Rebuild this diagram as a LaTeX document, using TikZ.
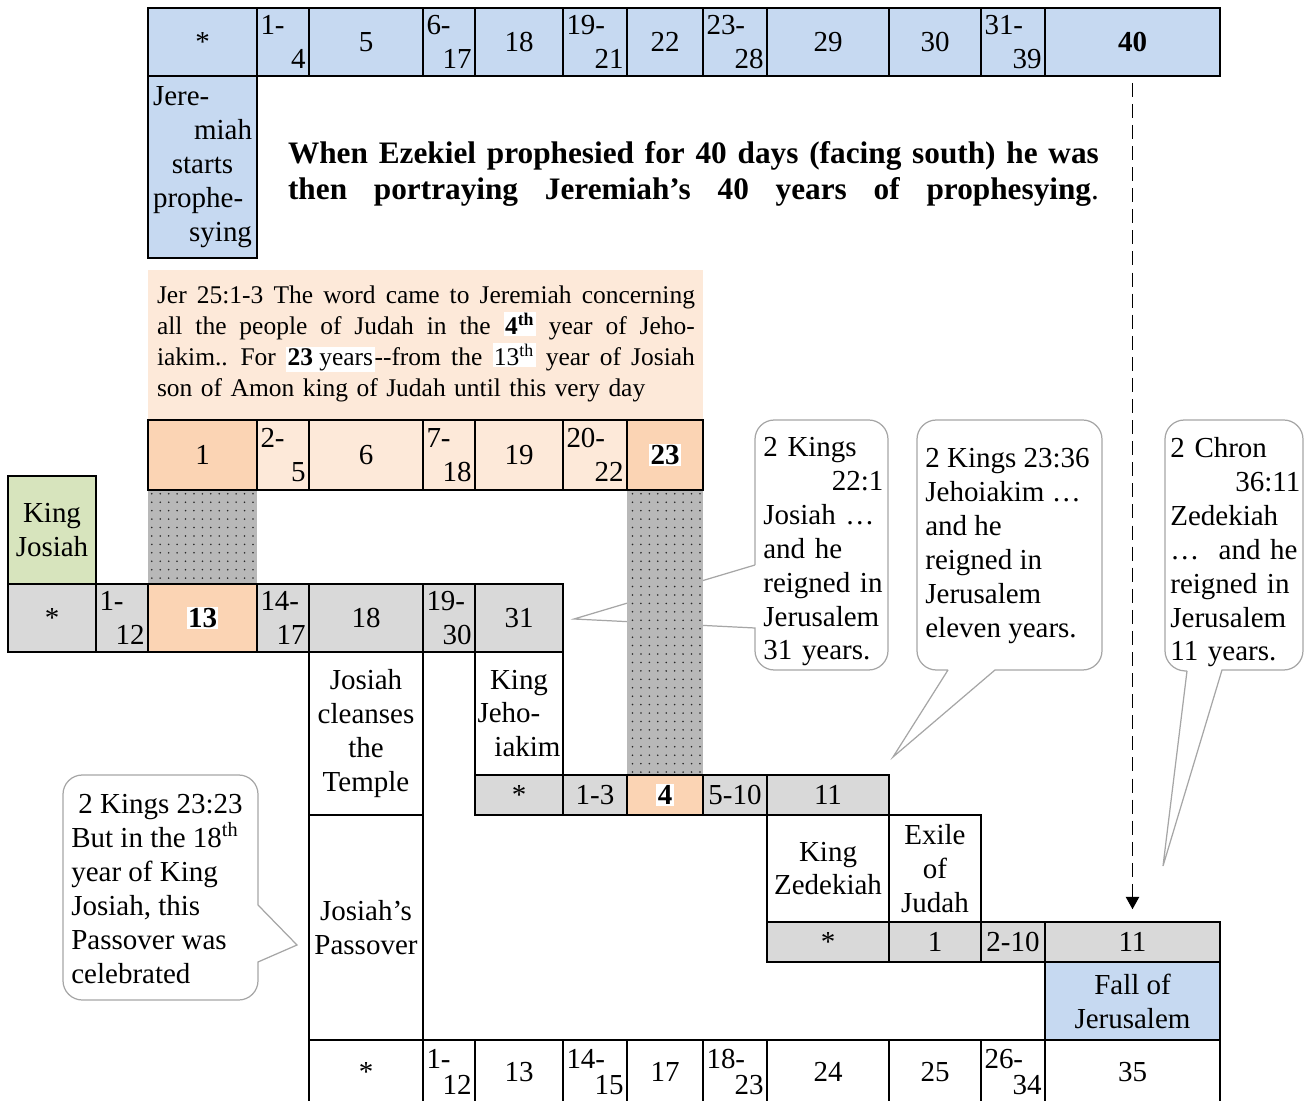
\documentclass[tikz,border=0pt]{standalone}
\usepackage{fontspec}
\setmainfont{Liberation Serif}
\usepackage{xcolor}
\usetikzlibrary{arrows.meta, fit, patterns.meta}

\definecolor{topblue}{HTML}{C6D9F1}
\definecolor{lpeach}{HTML}{FDE9D9}
\definecolor{dpeach}{HTML}{FBD4B4}
\definecolor{lgray}{HTML}{D9D9D9}
\definecolor{kinggreen}{HTML}{D7E4BD}
\definecolor{dotgray}{HTML}{B8B8B8}
\definecolor{calloutgray}{HTML}{A6A6A6}

\newcommand{\cellfont}{\fontsize{16.5}{19.3}\selectfont}
\newcommand{\jerfont}{\fontsize{14.5}{17.6}\selectfont}
\newcommand{\headfont}{\fontsize{17.8}{20.4}\selectfont\bfseries}
\newcommand{\hl}[1]{{\setlength{\fboxsep}{0.8pt}\colorbox{white}{#1}}}
% a justified line spread to a given width
\newcommand{\spreadline}[2]{\makebox[#1][s]{\spaceskip=0.25em plus 1fil minus 0.08em\relax #2}}
% line alignments inside a cell
\newcommand{\lineleft}[1]{#1\hspace*{\fill}\mbox{}}
\newcommand{\lineright}[1]{\mbox{}\hspace*{\fill}#1}
\newcommand{\linemid}[1]{\mbox{}\hspace*{\fill}#1\hspace*{\fill}\mbox{}}
\newcommand{\splitgap}{0pt}
% year cell: [style]{name}{x1}{x2}{y1}{y2}{text}
\newcommand{\yearcell}[7][]{\node[yrcell, #1,
  minimum width={(#4-#3)*0.02cm}, minimum height={(#6-#5)*0.02cm}]
  (#2) at ({(#3+#4)/2},{(#5+#6)/2}) {#7};}
% split year cell: [style]{name}{x1}{x2}{y1}{y2}{top left}{bottom right}
\newcommand{\splitcell}[8][]{\pgfmathsetlengthmacro{\splitw}{(#4-#3-7)*0.02cm}%
  \yearcell[#1, text width=\splitw]{#2}{#3}{#4}{#5}{#6}{\lineleft{#7}\\[\splitgap]\lineright{#8}}}

\tikzset{
  yrcell/.style={draw=black, line width=0.9pt, inner sep=0pt, align=center, font=\cellfont},
  bluecell/.style={fill=topblue},
  peachcell/.style={fill=lpeach, line width=1.4pt},
  graycell/.style={fill=lgray},
  whitecell/.style={fill=white},
  greencell/.style={fill=kinggreen},
  dotcol/.style={draw=none, inner sep=0pt, preaction={fill=dotgray},
    pattern={Dots[distance=4.8pt, radius=0.5pt]}, pattern color=black!85},
  callout/.style={draw=calloutgray, line width=0.7pt, fill=white},
  notetext/.style={anchor=north west, inner sep=0pt, align=left, font=\cellfont},
  headtext/.style={text width=16.22cm, align=left, inner sep=0pt, font=\headfont},
  jertext/.style={text width=10.76cm, align=left, inner sep=0pt, font=\jerfont},
  dasharr/.style={dash pattern=on 8pt off 4pt, line width=0.9pt, -{Triangle[length=7pt, width=7.5pt]}}
}

\begin{document}
\begin{tikzpicture}[x=0.02cm, y=-0.02cm]
  \useasboundingbox (0,0) rectangle (1306,1101);
  \clip (0,0) rectangle (1306,1101);

  % ---- Quote background ----
  \node[fill=lpeach, inner sep=0pt, fit={(148,270) (703,420)}] (jerbg) {};

  % ---- Callouts ----
  \draw[callout] (755,565) -- (574,619) -- (755,628) [rounded corners=11pt]
    -- (755,670) -- (888,670) -- (888,420) -- (755,420) -- (755,565);
  \draw[callout] (948,670) -- (893,757) -- (995,670) [rounded corners=11pt]
    -- (1102,670) -- (1102,420) -- (917,420) -- (917,670) -- (948,670);
  \draw[callout] (1187,671) -- (1163,866) -- (1222,670) [rounded corners=11pt]
    -- (1303,670) -- (1303,420) -- (1165,420) -- (1165,670) -- (1187,671);
  \draw[callout] (258,905) -- (297,945) -- (258,962) [rounded corners=11pt]
    -- (258,1000) -- (63,1000) -- (63,775) -- (258,775) -- (258,905);

  % ---- Dotted columns ----
  \node[dotcol, fit={(148,490) (257,584)}] (dotA) {};
  \node[dotcol, fit={(627,490) (703,775)}] (dotB) {};

  % ---- Jeremiah row ----
  \yearcell[bluecell]{t0}{148}{257}{8}{76}{*}
  \splitcell[bluecell]{t1}{257}{309}{8}{76}{1-}{4}
  \yearcell[bluecell]{t2}{309}{423}{8}{76}{5}
  \splitcell[bluecell]{t3}{423}{475}{8}{76}{6-}{17}
  \yearcell[bluecell]{t4}{475}{563}{8}{76}{18}
  \splitcell[bluecell]{t5}{563}{627}{8}{76}{19-}{21}
  \yearcell[bluecell]{t6}{627}{703}{8}{76}{22}
  \splitcell[bluecell]{t7}{703}{767}{8}{76}{23-}{28}
  \yearcell[bluecell]{t8}{767}{889}{8}{76}{29}
  \yearcell[bluecell]{t9}{889}{981}{8}{76}{30}
  \splitcell[bluecell]{t10}{981}{1045}{8}{76}{31-}{39}
  \yearcell[bluecell]{c40}{1045}{1220}{8}{76}{\textbf{40}}
  \yearcell[bluecell, text width=1.98cm]{jerem}{148}{257}{76}{258}
    {\lineleft{Jere-}\\\lineright{miah}\\\linemid{starts}\\\lineleft{prophe-}\\\lineright{sying}}

  % ---- 23 years row ----
  \yearcell[peachcell, fill=dpeach]{p1}{148}{257}{420}{490}{1}
  \splitcell[peachcell]{p2}{257}{309}{420}{490}{2-}{5}
  \yearcell[peachcell]{p3}{309}{423}{420}{490}{6}
  \splitcell[peachcell]{p4}{423}{475}{420}{490}{7-}{18}
  \yearcell[peachcell]{p5}{475}{563}{420}{490}{19}
  \splitcell[peachcell]{p6}{563}{627}{420}{490}{20-}{22}
  \yearcell[peachcell, fill=dpeach]{p7}{627}{703}{420}{490}{\hl{\textbf{23}}}

  % ---- Josiah row ----
  \yearcell[greencell]{josiah}{8}{96}{476}{584}{King\\Josiah}
  \yearcell[graycell]{j0}{8}{96}{584}{652}{*}
  \splitcell[graycell]{j1}{96}{148}{584}{652}{1-}{12}
  \yearcell[graycell, fill=dpeach]{j2}{148}{257}{584}{652}{\hl{\textbf{13}}}
  \splitcell[graycell]{j3}{257}{309}{584}{652}{14-}{17}
  \yearcell[graycell]{j4}{309}{423}{584}{652}{18}
  \splitcell[graycell]{j5}{423}{475}{584}{652}{19-}{30}
  \yearcell[graycell]{j6}{475}{563}{584}{652}{31}
  \yearcell[whitecell]{cleanse}{309}{423}{652}{815}{Josiah\\cleanses\\the\\Temple}
  \yearcell[whitecell]{passover}{309}{423}{815}{1040}{Josiah’s\\Passover}

  % ---- Jehoiakim row ----
  \yearcell[whitecell, text width=1.66cm]{jehoiakim}{475}{563}{652}{775}
    {\linemid{King}\\\lineleft{Jeho-}\\\lineright{iakim}}
  \yearcell[graycell]{k0}{475}{563}{775}{815}{*}
  \yearcell[graycell]{k1}{563}{627}{775}{815}{1-3}
  \yearcell[graycell, fill=dpeach]{k2}{627}{703}{775}{815}{\hl{\textbf{4}}}
  \yearcell[graycell]{k3}{703}{767}{775}{815}{5-10}
  \yearcell[graycell]{k4}{767}{889}{775}{815}{11}

  % ---- Zedekiah row ----
  \yearcell[whitecell]{zedekiah}{767}{889}{815}{922}{King\\Zedekiah}
  \yearcell[whitecell]{exile}{889}{981}{815}{922}{Exile\\of\\Judah}
  \yearcell[graycell]{z0}{767}{889}{922}{962}{*}
  \yearcell[graycell]{z1}{889}{981}{922}{962}{1}
  \yearcell[graycell]{z2}{981}{1045}{922}{962}{2-10}
  \yearcell[graycell]{z11}{1045}{1220}{922}{962}{11}
  \yearcell[bluecell]{fall}{1045}{1220}{962}{1040}{Fall of\\Jerusalem}

  % ---- Ezekiel row ----
  \renewcommand{\splitgap}{-4.5pt}
  \yearcell[whitecell]{b0}{309}{423}{1040}{1104}{*}
  \splitcell[whitecell]{b1}{423}{475}{1040}{1104}{1-}{12}
  \yearcell[whitecell]{b2}{475}{563}{1040}{1104}{13}
  \splitcell[whitecell]{b3}{563}{627}{1040}{1104}{14-}{15}
  \yearcell[whitecell]{b4}{627}{703}{1040}{1104}{17}
  \splitcell[whitecell]{b5}{703}{767}{1040}{1104}{18-}{23}
  \yearcell[whitecell]{b6}{767}{889}{1040}{1104}{24}
  \yearcell[whitecell]{b7}{889}{981}{1040}{1104}{25}
  \splitcell[whitecell]{b8}{981}{1045}{1040}{1104}{26-}{34}
  \yearcell[whitecell]{b9}{1045}{1220}{1040}{1104}{35}

  % ---- Texts ----
  \node[headtext] (heading) at (693.5,174)
    {\spreadline{16.22cm}{When Ezekiel prophesied for 40 days (facing south) he was}\\
     \spreadline{16.22cm}{then portraying Jeremiah’s 40 years of prophesying{\mdseries.}}};
  \node[jertext] (jer) at (426,344)
    {\spreadline{10.76cm}{Jer 25:1-3 The word came to Jeremiah concerning}\\
     \spreadline{10.76cm}{all the people of Judah in the \hl{\textbf{4\textsuperscript{th}}} year of Jeho-}\\
     \spreadline{10.76cm}{iakim.. For \hl{\textbf{23} years}-{}-from the \hl{13\textsuperscript{th}} year of Josiah}\\
     son of Amon king of Judah until this very day};

  \node[notetext, text width=2.4cm] (note1) at (763,437)
    {2 Kings\\\hspace*{\fill}22:1\\Josiah …\\and he\\reigned in\\Jerusalem\\31 years.};
  \node[notetext] (note2) at (925,448)
    {2 Kings 23:36\\Jehoiakim …\\and he\\reigned in\\Jerusalem\\eleven years.};
  \node[notetext, text width=2.6cm] (note3) at (1170,437)
    {2 Chron\\\hspace*{\fill}36:11\\Zedekiah\\…\ \ and he\\reigned in\\Jerusalem\\11 years.};
  \node[notetext] (note4) at (71,794)
    {\hspace*{4pt}2 Kings 23:23\\But in the 18\textsuperscript{th}\\year of King\\Josiah, this\\Passover was\\celebrated};

  % ---- Arrow ----
  \draw[dasharr, shorten <=3.4pt, shorten >=6.8pt] (c40) -- (z11);

\end{tikzpicture}
\end{document}
